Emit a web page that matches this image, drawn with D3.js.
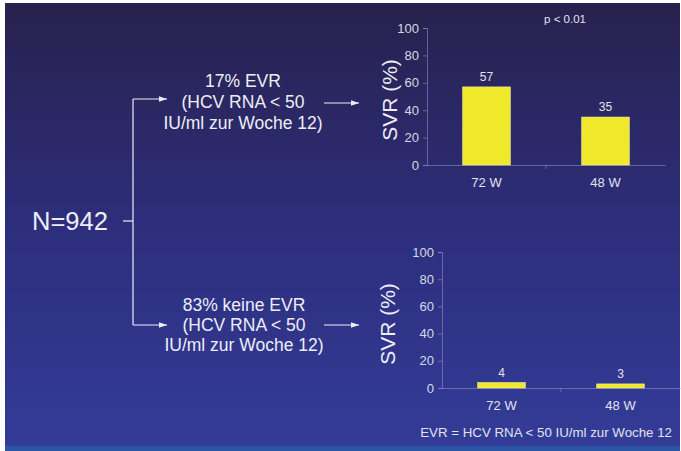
<!DOCTYPE html>
<html>
<head>
<meta charset="utf-8">
<script src="https://cdn.jsdelivr.net/npm/d3@7/dist/d3.min.js"></script>
<style>
  html, body { margin: 0; padding: 0; background: #ffffff; }
  svg { display: block; font-family: "Liberation Sans", Arial, sans-serif; }
</style>
</head>
<body>
<svg id="chart" width="681" height="451"></svg>
<script>
// Treatment arms and SVR rates (%)
const categories = ["72 W", "48 W"];
const evrSVR = [57, 35];        // patients with EVR
const noEvrSVR = [4, 3];        // patients without EVR
const yTicks = [0, 20, 40, 60, 80, 100];

const totalN = "N=942";
const evrLines = ["17% EVR", "(HCV RNA < 50", "IU/ml zur Woche 12)"];
const noEvrLines = ["83% keine EVR", "(HCV RNA < 50", "IU/ml zur Woche 12)"];
const pValue = "p < 0.01";
const footnote = "EVR = HCV RNA < 50 IU/ml zur Woche 12";

const textColor = "#eeedf5";
const axisColor = "rgba(150,150,200,0.55)";
const barColor = "#efe82b";

const svg = d3.select("#chart");

// Slide background
const defs = svg.append("defs");
const grad = defs.append("linearGradient")
  .attr("id", "bg").attr("x1", 0).attr("y1", 0).attr("x2", 0).attr("y2", 1);
grad.append("stop").attr("offset", "0%").attr("stop-color", "#28214d");
grad.append("stop").attr("offset", "50%").attr("stop-color", "#2d2e7c");
grad.append("stop").attr("offset", "100%").attr("stop-color", "#333c98");

const arrowHead = defs.append("marker")
  .attr("id", "arrow").attr("viewBox", "0 0 10 10")
  .attr("refX", 10).attr("refY", 5)
  .attr("markerWidth", 8).attr("markerHeight", 8)
  .attr("markerUnits", "userSpaceOnUse")
  .attr("orient", "auto");
arrowHead.append("path").attr("d", "M0,1.5 L10,5 L0,8.5 Z").attr("fill", textColor);

svg.append("rect").attr("x", 5).attr("y", 3).attr("width", 675).attr("height", 448)
  .attr("fill", "url(#bg)");
svg.append("rect").attr("x", 5).attr("y", 446).attr("width", 675).attr("height", 5)
  .attr("fill", "#2b56a6");

// Flow diagram on the left
const flow = svg.append("g").attr("fill", "none").attr("stroke", textColor).attr("stroke-width", 1.2);
flow.append("line").attr("x1", 123).attr("y1", 221).attr("x2", 133).attr("y2", 221);
flow.append("line").attr("x1", 133).attr("y1", 99).attr("x2", 133).attr("y2", 325);
flow.append("line").attr("x1", 133).attr("y1", 99).attr("x2", 167).attr("y2", 99).attr("marker-end", "url(#arrow)");
flow.append("line").attr("x1", 133).attr("y1", 325).attr("x2", 167).attr("y2", 325).attr("marker-end", "url(#arrow)");
flow.append("line").attr("x1", 324).attr("y1", 103).attr("x2", 359).attr("y2", 103).attr("marker-end", "url(#arrow)");
flow.append("line").attr("x1", 324).attr("y1", 325).attr("x2", 359).attr("y2", 325).attr("marker-end", "url(#arrow)");

svg.append("text").attr("x", 32).attr("y", 230)
  .attr("fill", textColor).attr("font-size", 25.5).text(totalN);

function textBlock(lines, cx, firstCenterY, step) {
  svg.append("g").selectAll("text").data(lines).join("text")
    .attr("x", cx)
    .attr("y", (d, i) => firstCenterY + i * step + 6)
    .attr("text-anchor", "middle")
    .attr("fill", textColor)
    .attr("font-size", 17.5)
    .text(d => d);
}
textBlock(evrLines, 243, 81, 21);
textBlock(noEvrLines, 244, 305, 20);

// Bar chart panel
function barPanel(values, x0, x1, yTop, yBottom, titleX, titleY) {
  const x = d3.scaleBand().domain(categories).range([x0, x1]).padding(0);
  const y = d3.scaleLinear().domain([0, 100]).range([yBottom, yTop]);
  const g = svg.append("g");

  const yAxis = g.append("g").attr("transform", `translate(${x0},0)`)
    .call(d3.axisLeft(y).tickValues(yTicks).tickSize(4).tickPadding(4));
  yAxis.select(".domain").attr("stroke", axisColor);
  yAxis.selectAll(".tick line").attr("stroke", axisColor);
  yAxis.selectAll(".tick text").attr("fill", "#d8d8e4")
    .attr("font-size", 13).attr("font-family", "Liberation Sans, Arial, sans-serif");

  const xAxis = g.append("g").attr("transform", `translate(0,${yBottom})`)
    .call(d3.axisBottom(x).tickSize(0).tickPadding(13));
  xAxis.select(".domain").attr("stroke", axisColor);
  xAxis.selectAll(".tick text").attr("fill", "#e2e2ec")
    .attr("font-size", 13).attr("font-family", "Liberation Sans, Arial, sans-serif");
  // separators between the categories
  g.append("g").selectAll("line").data(categories.slice(1)).join("line")
    .attr("x1", d => x(d)).attr("x2", d => x(d))
    .attr("y1", yBottom).attr("y2", yBottom + 4)
    .attr("stroke", axisColor);

  const bw = x.bandwidth() * 0.4;
  g.append("g").selectAll("rect").data(values).join("rect")
    .attr("x", (d, i) => x(categories[i]) + (x.bandwidth() - bw) / 2)
    .attr("y", d => y(d))
    .attr("width", bw)
    .attr("height", d => yBottom - y(d))
    .attr("fill", barColor)
    .attr("stroke", "#f4f0a0").attr("stroke-width", 0.6);

  g.append("g").selectAll("text").data(values).join("text")
    .attr("x", (d, i) => x(categories[i]) + x.bandwidth() / 2)
    .attr("y", d => y(d) - 6)
    .attr("text-anchor", "middle")
    .attr("fill", "#e2e2ec")
    .attr("font-size", 12)
    .text(d => d);

  // axis title, baseline placed so the glyphs sit left of the tick labels
  svg.append("text")
    .attr("transform", `translate(${titleX},${titleY}) rotate(-90)`)
    .attr("text-anchor", "middle")
    .attr("fill", textColor)
    .attr("font-size", 21)
    .text("SVR (%)");
}

barPanel(evrSVR, 427, 665, 28, 165, 397, 100);
barPanel(noEvrSVR, 442, 680, 252, 388, 395, 324);

svg.append("text").attr("x", 565).attr("y", 23).attr("text-anchor", "middle")
  .attr("fill", "#e2e2ec").attr("font-size", 11.5).text(pValue);

svg.append("text").attr("x", 672).attr("y", 437).attr("text-anchor", "end")
  .attr("fill", "#e2e2ec").attr("font-size", 13.3).text(footnote);
</script>
</body>
</html>
